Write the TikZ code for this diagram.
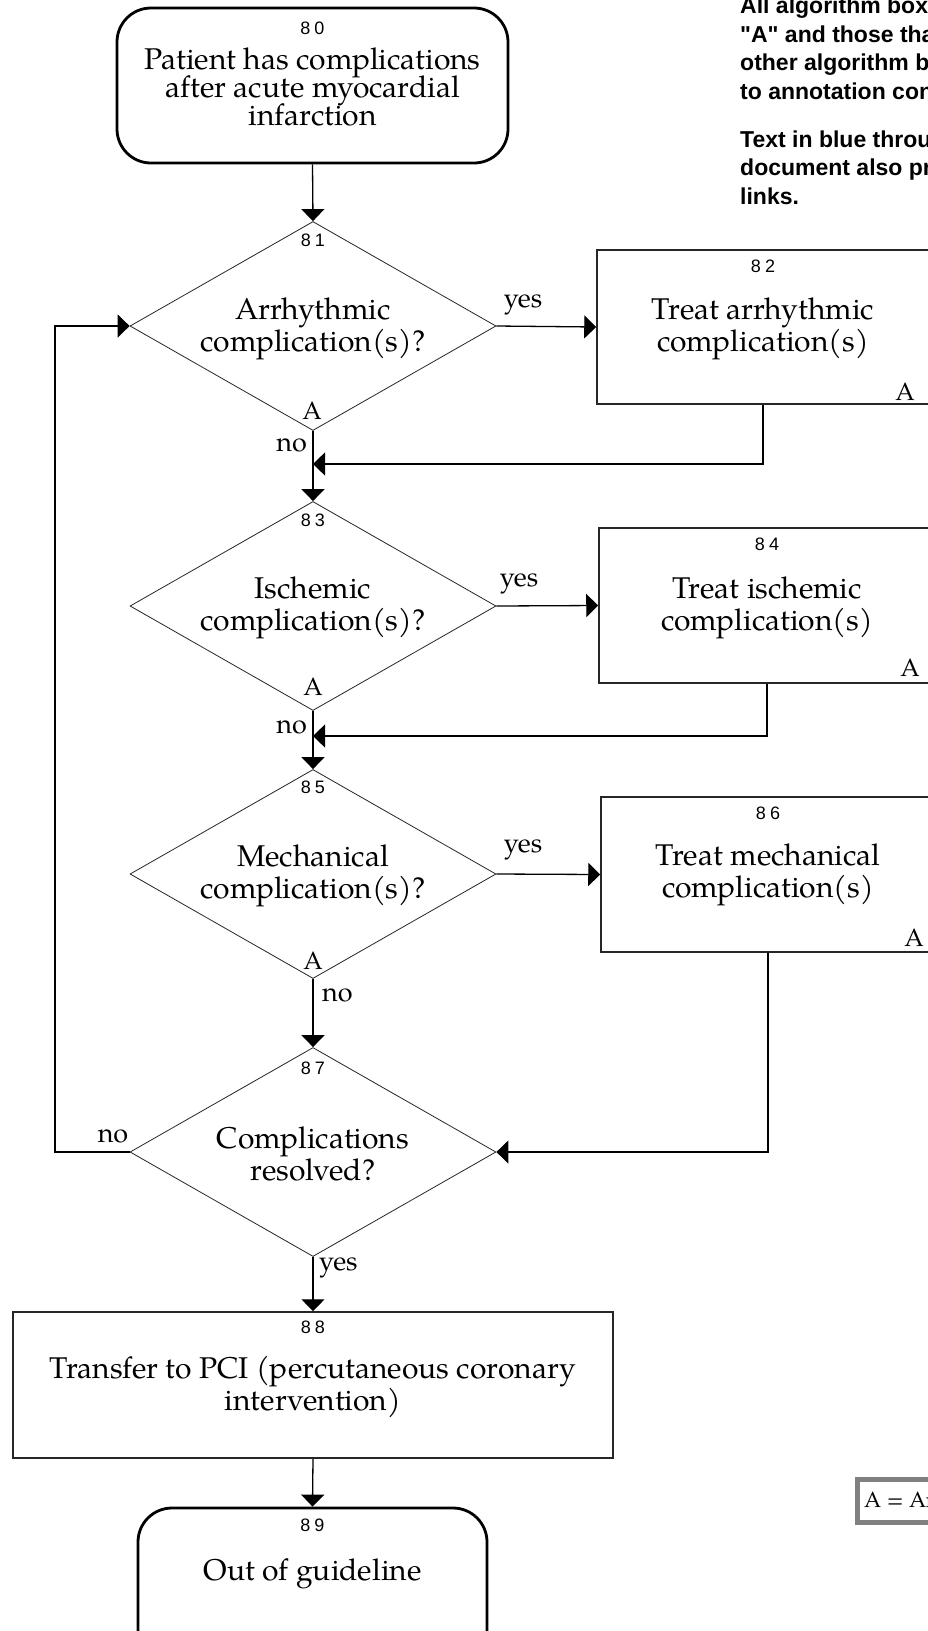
\documentclass[tikz,border=0pt]{standalone}
\usepackage{fontspec}
\setmainfont{texgyrepagella}[Extension=.otf,UprightFont=*-regular,BoldFont=*-bold,ItalicFont=*-italic,BoldItalicFont=*-bolditalic]
\newfontfamily\numfont{Liberation Sans}
\newfontfamily\notefont{Liberation Sans}
\newcommand\tightls{\lineskiplimit-20pt\relax}
\usetikzlibrary{arrows.meta,shapes.geometric}
\begin{document}
\begin{tikzpicture}[x=1pt,y=-1pt,
  termbox/.style={draw=black,line width=2.8pt,rounded corners=34pt,inner sep=0pt},
  procbox/.style={draw=black!85,line width=1.5pt,inner sep=0pt},
  decision/.style={draw=black!85,line width=0.8pt,shape=diamond,inner sep=0pt,minimum width=366pt,minimum height=209pt},
  maintext/.style={font=\fontsize{30}{32}\selectfont\tightls,align=center,inner sep=0pt},
  numlab/.style={font=\numfont\fontsize{18}{18}\selectfont,inner sep=0pt},
  alab/.style={font=\fontsize{25}{25}\selectfont,inner sep=0pt},
  branch/.style={font=\fontsize{27}{27}\selectfont,inner sep=0pt},
  conn/.style={draw=black,line width=1.3pt,-{Triangle[length=12pt,width=23pt]}},
  note/.style={font=\notefont\bfseries\fontsize{23}{28.5}\selectfont,align=left,inner sep=0pt,anchor=base west}
]
\useasboundingbox (0,0) rectangle (928,1631);
\clip (0,0) rectangle (928,1631);
\fill[white] (0,0) rectangle (928,1631);

% 80
\node[termbox,minimum width=391pt,minimum height=155pt] (b80) at (312.5,85.5) {};
\node[numlab] (n80) at (312.5,28) {8\kern4pt0};
\node[maintext,font=\fontsize{30}{28}\selectfont\tightls] (t80) at (312.5,87) {Patient has complications\\after acute myocardial\\infarction};

% 81
\node[decision] (d81) at (313,326) {};
\node[numlab] (n81) at (313,240) {8\kern4pt1};
\node[maintext] (t81) at (313,329) {Arrhythmic\\complication(s)?};
\node[alab] (a81) at (312,411) {A};

% 82
\node[procbox,minimum width=332pt,minimum height=154pt] (b82) at (763,327) {};
\node[numlab] (n82) at (763,266) {8\kern4pt2};
\node[maintext] (t82) at (763,329) {Treat arrhythmic\\complication(s)};
\node[alab] (a82) at (905,392) {A};

% 83
\node[decision] (d83) at (313,606) {};
\node[numlab] (n83) at (313,520) {8\kern4pt3};
\node[maintext] (t83) at (313,608) {Ischemic\\complication(s)?};
\node[alab] (a83) at (313,687) {A};

% 84
\node[procbox,minimum width=336pt,minimum height=155pt] (b84) at (767,605.5) {};
\node[numlab] (n84) at (767,544) {8\kern4pt4};
\node[maintext] (t84) at (767,608) {Treat ischemic\\complication(s)};
\node[alab] (a84) at (910,668) {A};

% 85
\node[decision] (d85) at (313,874) {};
\node[numlab] (n85) at (313,787) {8\kern4pt5};
\node[maintext] (t85) at (313,876) {Mechanical\\complication(s)?};
\node[alab] (a85) at (313,961) {A};

% 86
\node[procbox,minimum width=334pt,minimum height=155pt] (b86) at (768,874.5) {};
\node[numlab] (n86) at (768,813) {8\kern4pt6};
\node[maintext] (t86) at (768,875) {Treat mechanical\\complication(s)};
\node[alab] (a86) at (914,938) {A};

% 87
\node[decision] (d87) at (313,1152) {};
\node[numlab] (n87) at (313,1068) {8\kern4pt7};
\node[maintext] (t87) at (313,1154) {Complications\\resolved?};

% 88
\node[procbox,minimum width=600pt,minimum height=146pt] (b88) at (313,1385) {};
\node[numlab] (n88) at (313,1327) {8\kern4pt8};
\node[maintext] (t88) at (313,1387) {Transfer to PCI (percutaneous coronary\\intervention)};

% 89
\node[termbox,minimum width=349pt,minimum height=155pt] (b89) at (312.5,1585.5) {};
\node[numlab] (n89) at (312.5,1525) {8\kern4pt9};
\node[maintext] (t89) at (312.5,1574) {Out of guideline};

% connectors
\draw[conn] (b80.south) -- (d81.north);
\draw[conn] (d81.east) -- (b82.west);
\node[branch] (y81) at (523,305) {yes};
\draw[conn] (d81.south) -- (d83.north);
\node[branch,anchor=east] (no81) at (307,445) {no};
\coordinate (j81) at (313,464);
\draw[conn] (b82.south) |- (j81);

\draw[conn] (d83.east) -- (b84.west);
\node[branch] (y83) at (519,584) {yes};
\draw[conn] (d83.south) -- (d85.north);
\node[branch,anchor=east] (no83) at (307,727) {no};
\coordinate (j83) at (313,736);
\draw[conn] (b84.south) |- (j83);

\draw[conn] (d85.east) -- (b86.west);
\node[branch] (y85) at (523,850) {yes};
\draw[conn] (d85.south) -- (d87.north);
\node[branch,anchor=west] (no85) at (322,995) {no};
\draw[conn] (b86.south) |- (d87.east);

\coordinate (lp) at (55,1152);
\draw[conn] (d87.west) -- (lp) |- (d81.west);
\node[branch] (no87) at (113,1136) {no};
\draw[conn] (d87.south) -- (b88.north);
\node[branch,anchor=west] (y87) at (319,1268) {yes};
\draw[conn] (b88.south) -- (b89.north);

% notes (anchored at the baseline of their last line)
\node[note] (note1) at (740,99) {All algorithm boxes with an\\"A" and those that link to\\other algorithm boxes link\\to annotation content.};
\node[note] (note2) at (740,204) {Text in blue throughout the\\document also provides\\links.};

% legend
\node[draw=black!50,line width=5pt,minimum width=300pt,minimum height=43pt,anchor=west,inner sep=0pt] (leg) at (854.5,1501) {};
\node[anchor=west,font=\fontsize{22}{22}\selectfont,inner sep=0pt] (legt) at (864,1500) {A = Annotation};
\end{tikzpicture}
\end{document}
